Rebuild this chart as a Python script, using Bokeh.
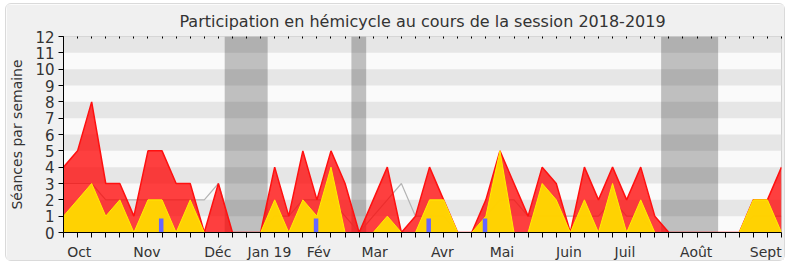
from bokeh.plotting import figure
from bokeh.models import Range1d, FixedTicker, LinearAxis, BoxAnnotation
from bokeh.embed import file_html
from bokeh.resources import INLINE

# one point per week of the 2018-2019 session
weeks = list(range(52))
presence = [4, 5, 8, 3, 3, 1, 5, 5, 3, 3, 0, 3, 0, 0, 0, 4, 1, 5, 2, 5,
            3, 0, 2, 4, 0, 1, 4, 2, 0, 0, 2, 5, 3, 1, 4, 3, 0, 4, 2, 4,
            2, 4, 1, 0, 0, 0, 0, 0, 0, 2, 2, 4]
interventions = [1, 2, 3, 1, 2, 0, 2, 2, 0, 2, 0, 0, 0, 0, 0, 2, 0, 2, 1, 4,
                 0, 0, 0, 1, 0, 0, 2, 2, 0, 0, 1, 5, 0, 0, 3, 2, 0, 2, 0, 3,
                 0, 2, 0, 0, 0, 0, 0, 0, 0, 2, 2, 0]
median = [3, 3, 3, 2, 2, 2, 2, 2, 2, 2, 2, 3, 0, 0, 0, 1, 1, 2, 2, 2,
          1, 0, 1, 2, 3, 1, 1, 1, 0, 0, 1, 2, 2, 1, 1, 1, 1, 1, 1, 2,
          1, 1, 0, 0, 0, 0, 0, 0, 0, 1, 1, 1]
question_weeks = [7, 18, 26, 30]
question_heights = [0.85, 0.85, 0.85, 0.85]
vacation_start = [11.45, 20.45, 42.45]
vacation_end = [14.5, 21.5, 46.5]
month_labels = ["Oct", "Nov", "Déc", "Jan 19", "Fév", "Mar", "Avr", "Mai",
                "Juin", "Juil", "Août", "Sept"]
month_pos = [1.12, 5.93, 10.96, 14.63, 18.13, 22.1, 26.92, 31.14, 35.9,
             39.88, 44.94, 49.88]
y_ticks = list(range(13))

FONT = "DejaVu Sans"
TXT = "#333333"

p = figure(width=780, height=258,
           x_range=Range1d(0, 51), y_range=Range1d(0, 12),
           output_backend="svg", toolbar_location=None,
           min_border_left=56, min_border_right=5,
           min_border_top=32, min_border_bottom=29,
           background_fill_color="#fafafa", border_fill_color="#f0f0f0",
           title="Participation en hémicycle au cours de la session 2018-2019",
           x_axis_type=None, y_axis_type=None)
p.styles = {"margin-left": "5px", "margin-top": "3px",
            "border": "1px solid #dadada", "border-radius": "6px"}
p.grid.visible = False
p.outline_line_color = "#d0d0d0"

p.title.align = "center"
p.title.text_font = FONT
p.title.text_font_size = "16px"
p.title.text_font_style = "normal"
p.title.text_color = TXT
p.title.offset = 4
p.title.standoff = 11

# stripes
for k in y_ticks[1:-1:2]:
    p.add_layout(BoxAnnotation(bottom=k, top=k + 1, fill_color="#e6e6e6",
                               fill_alpha=1, line_color=None, level="underlay"))
# vacations
for a, b in zip(vacation_start, vacation_end):
    p.add_layout(BoxAnnotation(left=a, right=b, fill_color="black",
                               fill_alpha=0.235, line_color=None, level="underlay"))

p.line(weeks, median, line_color="#b4b4b4", line_width=1.2)
p.varea(x=weeks, y1=0, y2=presence, fill_color="#ff0000", fill_alpha=0.75)
p.line(weeks, presence, line_color="#ff1010", line_width=1.5)
p.varea(x=weeks, y1=0, y2=interventions, fill_color="#ffd700", fill_alpha=0.97)
p.line(weeks, interventions, line_color="#ffee00", line_width=1)
p.vbar(x=[w - 0.06 for w in question_weeks], width=0.32, top=question_heights,
       bottom=0, fill_color="#6666ff", line_color=None)

# y axis
yax = LinearAxis(ticker=FixedTicker(ticks=y_ticks), axis_label="Séances par semaine")
yax.major_tick_out = 5
yax.major_tick_in = 0
yax.minor_tick_line_color = None
yax.major_label_text_font = FONT
yax.major_label_text_font_size = "15px"
yax.major_label_text_color = TXT
yax.major_label_standoff = 4
yax.axis_label_text_font = FONT
yax.axis_label_text_font_size = "14px"
yax.axis_label_text_font_style = "normal"
yax.axis_label_text_color = TXT
yax.axis_label_standoff = 7
p.add_layout(yax, "left")

# x axis: weekly ticks, month labels
xax = LinearAxis(ticker=FixedTicker(ticks=month_pos, minor_ticks=weeks))
xax.major_label_overrides = {pos: lab for pos, lab in zip(month_pos, month_labels)}
xax.major_tick_line_color = None
xax.major_tick_out = 0
xax.major_tick_in = 0
xax.minor_tick_out = 5
xax.minor_tick_in = 0
xax.minor_tick_line_color = "black"
xax.major_label_text_font = FONT
xax.major_label_text_font_size = "14px"
xax.major_label_text_color = TXT
xax.major_label_standoff = 6
p.add_layout(xax, "below")

# top edge: weekly tick marks only
top = LinearAxis(ticker=FixedTicker(ticks=[], minor_ticks=weeks))
top.axis_line_color = None
top.major_tick_line_color = None
top.minor_tick_in = 2
top.minor_tick_out = 0
top.minor_tick_line_color = "black"
top.major_label_standoff = 0
p.add_layout(top, "above")

open("out.html", "w").write(file_html(p, INLINE))
